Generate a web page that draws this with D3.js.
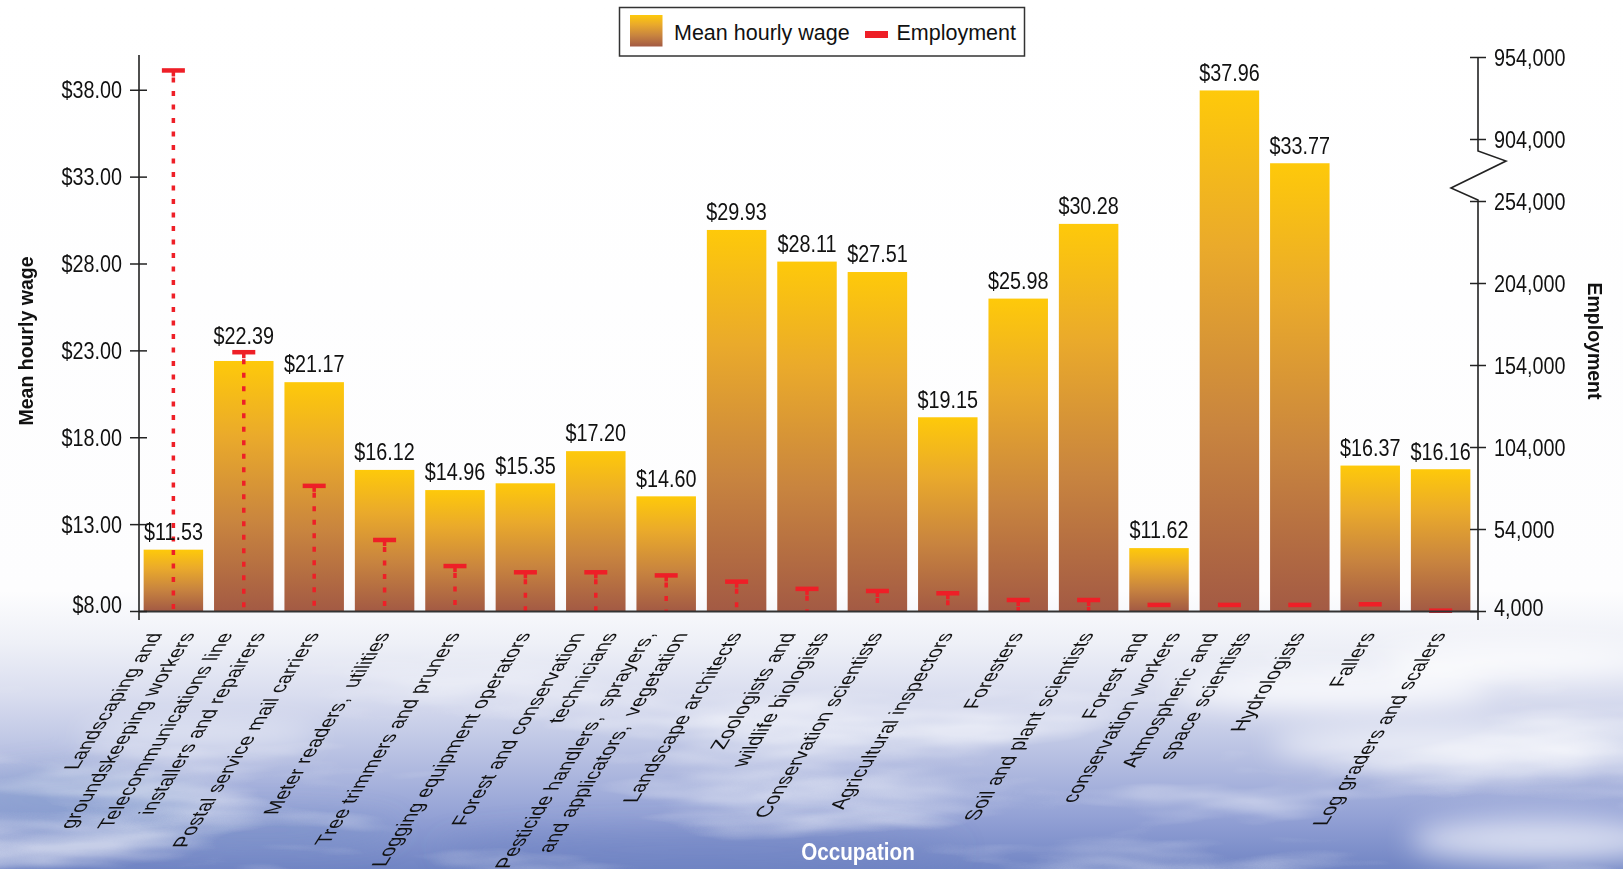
<!DOCTYPE html>
<html>
<head>
<meta charset="utf-8">
<script src="https://cdn.jsdelivr.net/npm/d3@7"></script>
<style>
  html, body { margin: 0; padding: 0; background: #fff; }
  svg { display: block; font-family: "Liberation Sans", Arial, sans-serif; }
  svg text { white-space: pre; }
</style>
</head>
<body>
<svg id="chart" width="1623" height="869"></svg>
<script>
// ---------------- data ----------------
const categories = [
  "Landscaping and\ngroundskeeping workers",
  "Telecommunications line\ninstallers and repairers",
  "Postal service mail carriers",
  "Meter readers,  utilities",
  "Tree trimmers and pruners",
  "Logging equipment operators",
  "Forest and conservation\ntechnicians",
  "Pesticide handlers,  sprayers,\nand applicators,  vegetation",
  "Landscape architects",
  "Zoologists and\nwildlife biologists",
  "Conservation scientists",
  "Agricultural inspectors",
  "Foresters",
  "Soil and plant scientists",
  "Forest and\nconservation workers",
  "Atmospheric and\nspace scientists",
  "Hydrologists",
  "Fallers",
  "Log graders and scalers"
];
const wages = [11.53, 22.39, 21.17, 16.12, 14.96, 15.35, 17.20, 14.60, 29.93, 28.11,
               27.51, 19.15, 25.98, 30.28, 11.62, 37.96, 33.77, 16.37, 16.16];
const employment = [945800, 161800, 80300, 47300, 31400, 27600, 27600, 25700, 21900, 17500,
                    16200, 14800, 10700, 10700, 7700, 7700, 7700, 8100, 4200];
const wageTicks = [8, 13, 18, 23, 28, 33, 38];
const empTicks = [4000, 54000, 104000, 154000, 204000, 254000, 904000, 954000];
const legendLabels = ["Mean hourly wage", "Employment"];
const axisTitles = { left: "Mean hourly wage", right: "Employment", bottom: "Occupation" };

// ---------------- setup ----------------
const W = 1623, H = 869;
const svg = d3.select("#chart");
const defs = svg.append("defs");

const bg = defs.append("linearGradient").attr("id", "bg").attr("x1", 0).attr("y1", 0).attr("x2", 0).attr("y2", 1);
[[0, "#ffffff"], [0.68, "#fdfdfe"], [0.74, "#eef0f7"], [0.8, "#d9ddef"], [0.87, "#b7c0e2"],
 [0.94, "#93a1d5"], [1, "#7185c4"]].forEach(([o, c]) => bg.append("stop").attr("offset", o).attr("stop-color", c));

const barGrad = defs.append("linearGradient").attr("id", "barGrad").attr("x1", 0).attr("y1", 0).attr("x2", 0).attr("y2", 1);
[[0, "#fec90a"], [0.3, "#eaaa2b"], [0.65, "#c8843f"], [1, "#a35a44"]]
  .forEach(([o, c]) => barGrad.append("stop").attr("offset", o).attr("stop-color", c));

const blur = defs.append("filter").attr("id", "blur").attr("x", "-50%").attr("y", "-50%").attr("width", "200%").attr("height", "200%");
blur.append("feGaussianBlur").attr("stdDeviation", 14);

// streaky cloud texture
const cf = defs.append("filter").attr("id", "cloudF").attr("x", 0).attr("y", 0).attr("width", "100%").attr("height", "100%")
  .attr("filterUnits", "userSpaceOnUse");
cf.append("feTurbulence").attr("type", "fractalNoise").attr("baseFrequency", "0.003 0.016")
  .attr("numOctaves", 4).attr("seed", 11);
cf.append("feColorMatrix").attr("type", "matrix")
  .attr("values", "0 0 0 0 1  0 0 0 0 1  0 0 0 0 1  3.2 0 0 0 -1.55");
const cm = defs.append("linearGradient").attr("id", "cloudMaskG").attr("gradientUnits", "userSpaceOnUse")
  .attr("x1", 0).attr("y1", 630).attr("x2", 0).attr("y2", 720);
cm.append("stop").attr("offset", 0).attr("stop-color", "#000");
cm.append("stop").attr("offset", 1).attr("stop-color", "#fff");
defs.append("mask").attr("id", "cloudMask").attr("maskUnits", "userSpaceOnUse")
  .append("rect").attr("x", 0).attr("y", 600).attr("width", W).attr("height", H - 600).attr("fill", "url(#cloudMaskG)");

svg.append("rect").attr("width", W).attr("height", H).attr("fill", "url(#bg)");

// soft clouds at the bottom
const clouds = svg.append("g").attr("filter", "url(#blur)");
const cloudSpecs = [
  [80, 800, 120, 30, "#7f98c9", 0.45], [200, 735, 120, 14, "#ffffff", 0.5],
  [260, 830, 140, 16, "#6f8cc4", 0.35], [1330, 690, 160, 18, "#ffffff", 0.8], [1520, 660, 140, 16, "#ffffff", 0.85],
  [1460, 745, 190, 20, "#ffffff", 0.7], [1540, 840, 130, 22, "#f4f6fc", 0.75],
  [700, 850, 260, 20, "#6c80c0", 0.4]
];
cloudSpecs.forEach(([cx, cy, rx, ry, c, o]) =>
  clouds.append("ellipse").attr("cx", cx).attr("cy", cy).attr("rx", rx).attr("ry", ry).attr("fill", c).attr("opacity", o));
svg.append("g").attr("mask", "url(#cloudMask)")
  .append("rect").attr("x", 0).attr("y", 600).attr("width", W).attr("height", H - 600)
  .attr("filter", "url(#cloudF)").attr("opacity", 0.55);

// ---------------- scales ----------------
const x = d3.scaleBand().domain(categories).range([138, 1476]).paddingInner(0.155).paddingOuter(0.08);
const yW = d3.scaleLinear().domain([8, 40]).range([611, 55]);
const yE = d3.scaleLinear().domain([4000, 254000, 904000, 954000]).range([611, 201, 139, 57]);
const SX = 0.86;      // horizontal narrowing of the chart's text
const RED = "#ee1f27";
const AXL = 139, AXR = 1478, BASE = 611;

// ---------------- bars ----------------
svg.append("g").selectAll("rect").data(categories).join("rect")
  .attr("x", d => x(d)).attr("width", x.bandwidth())
  .attr("y", (d, i) => yW(wages[i])).attr("height", (d, i) => yW(8) - yW(wages[i]))
  .attr("fill", "url(#barGrad)");

// ---------------- employment markers ----------------
const emp = svg.append("g");
categories.forEach((c, i) => {
  const cx = x(c) + x.bandwidth() / 2;
  const cy = yE(employment[i]);
  if (BASE - cy > 8) {
    emp.append("line").attr("x1", cx).attr("x2", cx).attr("y1", cy + 7).attr("y2", BASE)
      .attr("stroke", RED).attr("stroke-width", 3.5).attr("stroke-dasharray", "5,8.5");
    emp.append("rect").attr("x", cx - 1.75).attr("y", cy).attr("width", 3.5).attr("height", 6).attr("fill", RED);
  }
  emp.append("rect").attr("x", cx - 11.5).attr("y", cy - 2.25).attr("width", 23).attr("height", 4.5).attr("fill", RED);
});

// baseline
svg.append("line").attr("x1", AXL).attr("x2", AXR).attr("y1", BASE + 0.5).attr("y2", BASE + 0.5)
  .attr("stroke", "#333").attr("stroke-width", 2.2);

// ---------------- value labels ----------------
svg.append("g").selectAll("text").data(categories).join("text")
  .attr("text-anchor", "middle").attr("font-size", 23).attr("fill", "#111")
  .attr("transform", (d, i) => {
    const cx = x(d) + x.bandwidth() / 2;
    const top = yW(wages[i]);
    let center = top - 18;
    const cy = yE(employment[i]);
    if (cy > center - 10 && cy < top + 3) center = cy - 17;
    return `translate(${cx},${center + 8.3}) scale(${SX},1)`;
  })
  .text((d, i) => d3.format("$.2f")(wages[i]));

// ---------------- left axis ----------------
const gL = svg.append("g").attr("transform", `translate(${AXL},0)`)
  .call(d3.axisLeft(yW).tickValues(wageTicks).tickFormat(d3.format("$.2f")).tickSizeOuter(0).tickSizeInner(9));
gL.select(".domain").remove();
gL.selectAll(".tick line").attr("x1", 8).attr("x2", -9).attr("stroke", "#222").attr("stroke-width", 1.5);
gL.selectAll(".tick text").attr("font-size", 23).attr("font-family", "Liberation Sans, Arial, sans-serif")
  .attr("fill", "#111").attr("x", null).attr("dy", null)
  .attr("transform", (d) => `translate(-17,${d === 8 ? 1 : 8}) scale(${SX},1)`);
gL.append("line").attr("x1", 0).attr("x2", 0).attr("y1", 55).attr("y2", 620).attr("stroke", "#222").attr("stroke-width", 1.6);

// ---------------- right axis ----------------
const gR = svg.append("g").attr("transform", `translate(${AXR},0)`)
  .call(d3.axisRight(yE).tickValues(empTicks).tickFormat(d3.format(",")).tickSizeOuter(0).tickSizeInner(8));
gR.select(".domain").remove();
gR.selectAll(".tick line").attr("x1", -8).attr("x2", 8).attr("stroke", "#222").attr("stroke-width", 1.5);
gR.selectAll(".tick text").attr("font-size", 23).attr("font-family", "Liberation Sans, Arial, sans-serif")
  .attr("fill", "#111").attr("x", null).attr("dy", null).attr("text-anchor", "start")
  .attr("transform", (d) => `translate(16,${d === 4000 ? 4 : 8}) scale(${SX},1)`);
const bTop = yE(904000) + 12, bBot = yE(254000) - 1;
gR.append("path")
  .attr("d", `M0,57 V${bTop} L28,${bTop + 10} L-27,${bBot - 12} L0,${bBot} V620`)
  .attr("fill", "none").attr("stroke", "#222").attr("stroke-width", 1.6);

// ---------------- category labels ----------------
const LS = 32.6, C = 1.0;
const catG = svg.append("g");
categories.forEach((c) => {
  const lines = c.split("\n");
  const n = lines.length;
  const cx = x(c) + x.bandwidth() / 2;
  const tx = cx + 6 - (n - 1) / 2 * C * LS;
  const t = catG.append("text")
    .attr("transform", `translate(${tx},633) matrix(0.53,-0.848,${C},0,0,0)`)
    .attr("text-anchor", "end").attr("font-size", 21.2).attr("fill", "#111");
  lines.forEach((ln, j) => t.append("tspan").attr("x", 0).attr("y", j * LS).text(ln));
});

// ---------------- axis titles ----------------
svg.append("text").attr("transform", "translate(33,341) rotate(-90)")
  .attr("text-anchor", "middle").attr("font-weight", "bold").attr("font-size", 19.5).attr("fill", "#111")
  .text(axisTitles.left);
svg.append("text").attr("transform", "translate(1588,341) rotate(90)")
  .attr("text-anchor", "middle").attr("font-weight", "bold").attr("font-size", 19.5).attr("fill", "#111")
  .text(axisTitles.right);
svg.append("text").attr("transform", `translate(858,860) scale(${SX},1)`)
  .attr("text-anchor", "middle").attr("font-weight", "bold").attr("font-size", 24).attr("fill", "#fff")
  .text(axisTitles.bottom);

// ---------------- legend ----------------
const lg = svg.append("g");
lg.append("rect").attr("x", 619.5).attr("y", 7.5).attr("width", 405).attr("height", 48.5)
  .attr("fill", "#fff").attr("stroke", "#333").attr("stroke-width", 1.5);
lg.append("rect").attr("x", 630).attr("y", 15).attr("width", 32.5).attr("height", 31.5).attr("fill", "url(#barGrad)");
lg.append("text").attr("x", 674).attr("y", 39.5).attr("font-size", 21.5).attr("fill", "#111").text(legendLabels[0]);
lg.append("rect").attr("x", 865).attr("y", 31).attr("width", 23).attr("height", 7).attr("fill", RED);
lg.append("text").attr("x", 896.5).attr("y", 39.5).attr("font-size", 21.5).attr("fill", "#111").text(legendLabels[1]);
</script>
</body>
</html>
